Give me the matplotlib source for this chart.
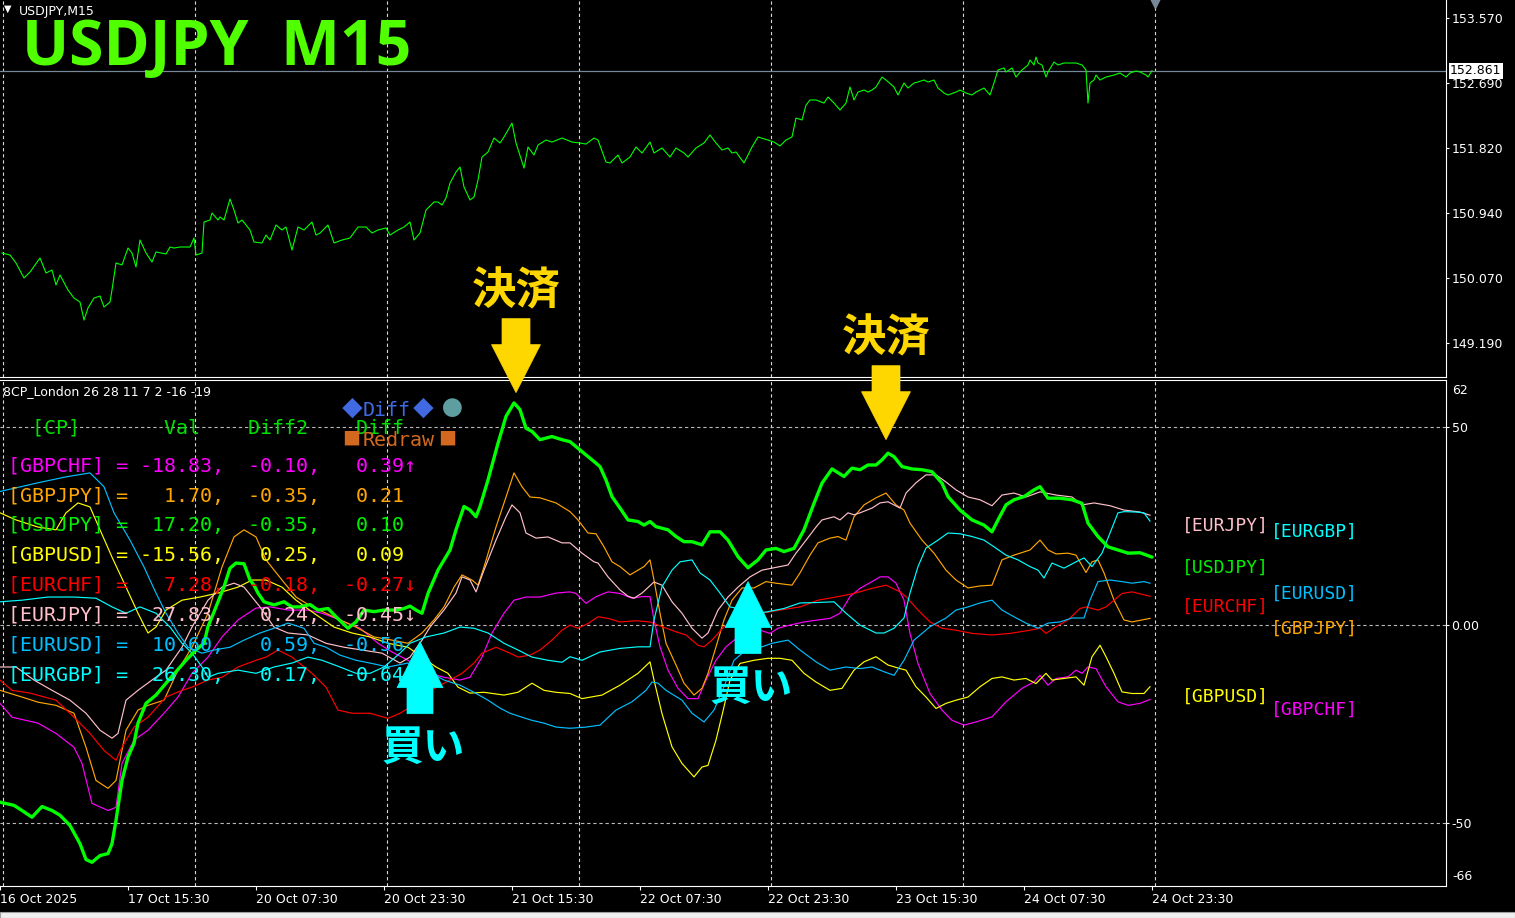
import matplotlib
matplotlib.use('Agg')
import matplotlib.pyplot as plt
from matplotlib.patches import Polygon, Rectangle
from matplotlib.transforms import IdentityTransform, blended_transform_factory

W, H = 1515, 918

# ---------------- data ----------------
x_tick_idx = [0, 64, 128, 192, 256, 320, 384, 448, 512, 576]
x_tick_labels = ["16 Oct 2025", "17 Oct 15:30", "20 Oct 07:30", "20 Oct 23:30",
                 "21 Oct 15:30", "22 Oct 07:30", "22 Oct 23:30", "23 Oct 15:30",
                 "24 Oct 07:30", "24 Oct 23:30"]
grid_idx = [1.5, 97.5, 193.5, 289.5, 385.5, 481.5, 577.5]
price_ticks = [153.570, 152.690, 151.820, 150.940, 150.070, 149.190]
bid_price = 152.861
sub_ticks = [50, 0, -50]
sub_tick_labels = ["50", "0.00", "-50"]

price_idx = [1,5,8,12,15,20,23,26,28,30,34,37,40,42,44,47,50,52,55,56,58,61,64,66,68,70,73,76,78,83,
             85,87,90,95,97,98,101,102,105,106,109,110,112,115,117,119,121,125,127,131,133,135,138,141,143,
             146,149,152,156,158,160,164,167,171,175,179,183,186,189,193,195,199,202,205,207,210,213,217,219,
             221,223,225,228,230,232,235,237,239,241,244,247,250,252,256,258,262,264,267,269,273,276,281,286,290,
             293,297,299,303,305,309,311,315,318,321,325,327,331,335,338,342,344,348,352,355,358,361,364,366,
             368,372,376,379,
             384,387,390,393,396,398,401,403,405,408,412,414,417,420,423,425,427,429,432,434,436,438,441,443,
             447,449,452,454,457,459,462,464,467,469,472,474,478,480,483,486,488,492,495,497,499,502,503,506,
             508,511,514,515,517,518,519,521,523,524,527,529,532,535,538,541,543,544,545,547,548,550,553,557,
             560,563,565,568,570,573,574,576]
price_val = [150.406,150.379,150.272,150.070,150.150,150.339,150.137,150.177,149.976,150.110,
             149.908,149.800,149.746,149.504,149.666,149.800,149.827,149.679,149.746,149.908,
             150.272,150.245,150.473,150.406,150.218,150.581,150.406,150.285,150.420,150.393,
             150.487,150.473,150.487,150.487,150.608,150.379,150.406,150.823,150.850,150.945,
             150.850,150.891,150.850,151.133,150.985,150.810,150.850,150.716,150.554,150.541,
             150.648,150.581,150.783,150.716,150.756,150.446,150.756,150.716,150.823,150.648,
             150.675,150.783,150.541,150.581,150.608,150.756,150.756,150.675,150.716,150.743,
             150.648,150.716,150.756,150.823,150.581,150.675,150.985,151.093,151.093,151.052,
             151.147,151.348,151.497,151.564,151.295,151.120,151.160,151.389,151.698,151.766,
             151.954,151.887,151.968,152.156,151.887,151.550,151.833,151.725,151.860,151.927,
             151.900,151.954,151.900,151.887,
             151.873,151.954,151.927,151.631,151.618,151.725,151.618,151.698,151.833,151.752,
             151.900,151.752,151.820,151.698,151.820,151.752,151.698,151.820,151.887,151.995,
             151.887,151.793,151.820,151.752,151.766,151.618,151.833,151.968,
             151.927,151.900,151.847,151.927,151.968,152.223,152.197,152.398,152.466,152.466,
             152.425,152.506,152.425,152.331,152.425,152.641,152.466,152.573,152.600,152.573,
             152.600,152.641,152.775,152.735,152.641,152.533,152.695,152.627,152.695,152.708,
             152.735,152.708,152.735,152.627,152.560,152.533,152.573,152.600,152.560,152.533,
             152.573,152.627,152.533,152.695,152.870,152.897,152.843,152.897,152.775,152.870,
             152.937,153.004,152.937,153.045,152.964,152.937,152.775,152.843,152.977,152.937,
             152.964,152.964,152.964,152.937,152.870,152.425,152.695,152.735,152.802,152.735,
             152.775,152.802,152.829,152.775,152.829,152.856,152.843,152.802,152.775,152.861]

usdjpy_idx = [0,7,11,16,21,26,30,35,40,43,46,50,54,56,58,61,64,67,69,73,78,83,88,93,98,102,104,108,112,115,
              118,122,125,127,129,132,137,142,146,150,155,159,164,168,174,178,182,187,192,198,202,205,208,211,
              214,219,225,228,232,235,238,240,244,249,253,257,260,263,266,270,276,281,
              285,291,296,300,303,306,310,314,319,322,325,328,334,338,342,346,351,355,360,364,369,374,379,383,
              388,392,397,402,407,411,416,422,426,430,434,438,441,444,447,451,456,461,466,471,474,480,486,492,
              496,499,503,507,512,517,520,524,530,536,541,544,549,554,559,564,570,576]
usdjpy_val = [-44.8,-45.6,-46.9,-48.6,-45.9,-46.9,-48.1,-50.7,-55.3,-59.3,-60.0,-58.3,-57.8,-55.3,-49.4,
              -39.3,-33.4,-29.9,-24.8,-19.8,-17.7,-14.7,-11.8,-8.9,-6.3,-4.6,-0.4,4.6,9.7,14.4,15.7,15.5,
              11.4,10.1,8.1,5.9,5.1,5.9,4.6,4.6,5.2,3.8,4.2,2.1,-0.8,0.8,3.8,3.4,3.8,3.8,4.2,4.8,3.8,3.0,
              8.0,13.9,19.0,24.1,30.0,29.1,27.4,30.0,36.7,46.0,52.8,56.2,54.5,49.8,49.0,46.9,47.7,46.9,
              46.4,43.9,41.8,40.1,36.7,32.5,29.6,26.6,26.2,25.3,26.2,24.9,24.1,22.4,21.1,21.1,20.3,23.6,
              23.6,21.5,17.3,14.5,16.5,19.0,19.4,18.6,19.4,24.1,30.8,35.9,39.5,37.6,39.7,39.3,40.5,40.5,
              41.8,43.5,42.6,40.1,39.5,39.3,38.8,35.9,32.5,29.1,26.6,25.3,23.6,26.6,30.4,31.7,32.5,34.2,
              35.0,32.1,32.1,31.7,30.8,25.8,22.4,19.8,19.0,18.2,18.3,17.2]

eurjpy_idx = [0,8,17,26,35,43,50,56,59,63,69,76,83,91,96,104,111,117,122,130,137,144,154,163,172,181,191,
              200,205,211,215,222,228,231,235,238,242,248,253,256,260,263,268,274,281,
              285,291,297,299,304,310,314,317,321,327,331,336,341,346,351,354,359,364,369,375,381,386,394,
              398,402,408,411,417,420,424,427,430,436,440,444,450,453,458,463,468,473,478,484,490,496,501,
              507,513,520,528,536,541,547,555,562,570,575]
eurjpy_val = [-10.6,-10.6,-13.9,-16.5,-19.0,-22.3,-26.6,-28.6,-27.4,-19.0,-16.5,-13.9,-11.4,-5.6,-0.5,
              6.3,9.6,10.6,9.6,4.6,-0.5,-2.0,-2.5,-4.6,-5.6,-6.3,-7.1,-9.6,-8.1,-3.8,-0.5,3.8,8.1,12.2,
              11.4,8.4,13.9,21.5,27.4,30.4,28.4,23.3,22.0,22.3,20.8,
              20.8,18.2,16.0,15.7,12.2,8.9,7.3,6.8,8.1,10.9,10.1,5.9,3.0,-0.8,-3.3,-2.0,3.8,7.1,9.6,12.2,
              13.9,14.4,15.2,18.2,20.8,24.8,26.6,27.4,26.6,28.4,27.9,28.4,29.6,30.9,31.2,29.6,33.4,36.0,
              38.0,38.0,36.2,34.2,32.4,31.7,30.2,32.9,33.4,32.4,33.7,32.9,32.4,30.4,30.9,30.2,29.1,28.6,27.8]

gbpjpy_idx = [0,11,19,28,37,43,48,54,58,63,69,74,82,89,96,104,111,117,122,128,133,141,148,156,163,170,178,
              187,196,204,211,217,222,227,231,236,239,242,248,253,257,261,265,270,278,
              285,289,294,298,302,306,310,315,319,322,325,327,330,333,338,342,347,351,354,358,362,366,371,
              377,383,388,396,400,405,409,415,419,423,427,432,438,443,448,452,455,461,467,473,478,484,490,
              496,501,507,515,520,524,528,534,538,543,546,549,552,557,562,566,571,575]
gbpjpy_val = [-16.5,-18.2,-19.5,-20.3,-22.3,-30.9,-39.3,-41.3,-39.3,-26.6,-21.5,-20.3,-19.0,-11.4,-5.6,
              3.0,14.7,22.3,24.1,22.3,16.5,11.4,7.1,4.6,3.0,1.3,-0.5,-3.0,-3.8,-4.6,-2.0,1.3,4.6,9.6,12.7,
              11.4,10.1,14.7,24.8,32.4,38.5,35.0,32.4,32.2,30.9,
              28.7,26.6,23.3,23.1,19.8,16.0,14.8,12.7,13.9,14.8,16.5,11.4,3.0,-4.6,-10.1,-14.7,-17.7,-16.0,
              -12.2,-5.5,1.3,6.3,9.4,9.4,11.0,10.6,10.1,13.2,17.7,20.8,22.0,22.4,21.5,27.4,30.4,32.2,33.4,
              30.4,29.1,25.8,21.5,18.2,13.9,11.4,9.4,9.9,10.1,16.5,17.7,19.0,21.5,19.0,18.0,18.2,17.7,13.3,
              16.0,16.5,13.2,6.3,1.3,0.8,1.3,1.7]

eurchf_idx = [0,6,15,28,37,45,52,58,61,67,74,83,91,96,104,111,119,128,133,139,146,156,163,169,176,185,194,
              200,205,213,222,231,237,241,248,255,259,265,270,276,281,
              285,289,294,299,304,310,318,325,331,338,343,349,352,356,362,367,373,381,390,400,409,419,427,
              436,443,450,453,459,465,471,478,486,496,505,515,520,523,528,534,540,543,549,553,557,561,566,575]
eurchf_val = [-13.9,-16.5,-17.2,-19.0,-23.3,-27.4,-31.7,-34.2,-30.9,-25.8,-23.3,-18.2,-16.5,-15.7,-13.9,
              -13.2,-10.6,-8.9,-8.1,-6.3,-8.1,-12.2,-15.7,-21.5,-22.3,-22.3,-23.6,-22.3,-20.8,-17.2,-14.7,
              -12.2,-9.6,-7.1,-5.6,-7.1,-8.1,-7.6,-6.3,-3.8,-1.3,
              0.0,-0.8,0.4,2.1,1.7,0.8,1.1,0.8,-0.4,-1.7,-2.5,-5.1,-5.5,-3.8,-0.4,0.8,1.7,3.0,3.8,4.6,6.3,
              7.2,8.0,9.3,10.1,8.4,7.2,3.8,0.8,-0.8,-1.3,-2.1,-2.5,-2.1,-1.3,-0.8,-2.1,-0.4,1.3,4.2,4.6,
              3.8,4.6,6.3,8.0,8.4,7.3]

eurusd_idx = [0,19,33,45,52,57,65,72,78,83,89,94,101,107,115,122,130,137,144,152,157,163,170,178,185,194,
              204,213,222,230,237,244,250,255,261,266,272,278,
              285,293,300,308,316,323,326,329,333,341,346,352,357,362,367,373,381,386,394,400,408,415,423,
              430,436,442,447,452,457,465,473,478,484,490,496,501,507,513,519,524,530,536,542,545,549,555,
              561,566,572,575]
eurusd_val = [33.8,36.0,37.5,38.5,35.0,28.4,21.5,14.7,8.1,3.0,-2.0,-5.6,-7.1,-6.3,-5.6,-3.8,-2.0,-0.8,0.5,
              -0.8,-4.6,-5.6,-7.6,-8.9,-9.6,-10.6,-9.6,-11.4,-13.9,-15.2,-17.0,-19.0,-21.0,-22.3,-23.3,
              -24.1,-24.8,-25.8,
              -26.1,-25.8,-25.3,-21.5,-19.4,-16.5,-14.4,-14.7,-16.5,-19.0,-22.3,-24.5,-21.5,-15.6,-8.9,-6.3,
              -5.5,-4.6,-3.8,-6.3,-9.3,-11.4,-10.6,-11.0,-10.6,-11.8,-12.7,-8.9,-3.8,-0.4,1.8,3.8,4.6,5.6,
              6.3,3.8,2.1,0.5,-0.8,0.5,0.8,1.8,1.8,6.3,11.0,11.4,11.0,10.6,11.0,10.6]

eurgbp_idx = [0,11,24,37,48,56,63,70,78,85,91,96,101,104,109,119,128,137,146,154,161,170,178,185,192,200,
              205,213,222,230,237,244,252,259,266,274,281,
              285,291,300,310,319,325,327,331,336,340,346,350,355,360,365,373,379,384,392,400,408,417,423,
              430,438,442,447,452,455,459,463,469,474,480,486,492,497,503,509,515,519,522,526,532,538,542,
              546,551,555,559,562,568,572,575]
eurgbp_val = [5.9,6.3,7.1,7.1,6.8,4.6,3.0,4.6,3.0,-0.5,-4.6,-7.1,-10.6,-13.2,-12.2,-11.4,-12.2,-10.6,-9.6,
              -8.1,-8.9,-10.6,-12.2,-12.2,-10.6,-7.1,-4.6,-3.0,-2.0,-0.5,-0.8,-2.0,-4.6,-6.3,-8.1,-8.9,-9.4,
              -8.0,-8.9,-6.8,-5.9,-5.5,-5.5,1.3,9.7,13.9,16.0,16.5,13.2,11.4,8.1,4.6,3.8,3.0,3.4,4.2,5.6,
              5.7,5.9,3.0,0.0,-2.0,-2.0,-0.8,1.8,8.1,14.8,19.5,21.5,23.3,23.1,22.4,21.5,19.8,17.7,16.5,14.8,
              13.9,11.9,15.7,14.4,16.0,17.0,14.8,18.2,23.3,28.4,28.7,28.6,28.4,26.3]

gbpchf_idx = [0,6,19,28,37,41,46,54,58,61,67,74,82,89,96,104,111,119,128,135,144,154,161,170,180,189,196,
              204,209,215,222,230,235,241,246,252,257,263,270,278,
              285,288,293,298,304,310,316,321,325,327,330,334,339,344,349,353,358,363,369,377,385,389,395,
              402,409,415,420,425,430,436,440,444,448,452,455,459,465,471,476,482,488,496,503,511,517,520,
              524,528,534,538,541,544,548,553,559,564,570,575]
gbpchf_val = [-19.8,-23.3,-24.8,-27.4,-30.9,-35.0,-45.1,-46.9,-46.1,-35.0,-29.1,-26.6,-22.3,-18.2,-12.2,
              -8.1,-3.0,1.3,4.3,4.6,3.8,3.8,3.0,1.3,-0.8,-4.6,-6.8,-8.9,-10.6,-12.2,-13.2,-13.9,-13.2,-8.1,
              -2.0,3.0,6.3,7.1,7.1,8.1,
              8.4,8.0,5.5,7.2,8.4,8.0,6.8,7.2,7.2,1.3,-5.5,-11.4,-16.0,-18.6,-18.6,-13.9,-8.9,-5.5,-3.0,
              -0.8,-2.1,-0.8,0.0,0.8,1.3,1.7,3.0,7.2,9.3,11.0,12.2,12.2,10.6,6.3,-2.1,-9.7,-17.3,-21.5,
              -24.1,-25.3,-24.5,-23.2,-19.4,-16.0,-14.4,-12.7,-15.2,-13.5,-13.1,-11.4,-12.2,-10.6,-11.0,
              -15.6,-19.4,-20.3,-19.8,-18.8]

gbpusd_idx = [0,8,19,28,33,39,45,50,56,63,69,74,78,83,91,100,109,119,126,133,141,148,157,167,176,185,194,
              204,211,218,224,229,235,242,252,259,266,272,278,
              285,291,301,310,319,325,327,331,336,341,347,351,354,358,362,365,370,377,384,390,396,402,408,
              415,421,427,432,438,444,450,453,458,463,468,473,478,484,490,496,501,507,513,518,523,526,532,
              538,542,546,550,553,557,561,566,572,575]
gbpusd_val = [28.4,26.6,24.8,24.1,28.4,30.9,29.9,24.1,17.2,9.6,3.0,-2.0,-0.5,3.8,6.3,7.1,8.1,9.6,11.4,11.4,
              9.6,6.3,3.0,-0.5,-2.0,-3.0,-4.6,-5.6,-8.1,-10.6,-12.2,-15.7,-17.2,-17.0,-17.7,-17.0,-14.7,
              -16.5,-17.0,
              -17.3,-18.6,-17.7,-15.2,-12.2,-9.3,-13.9,-22.4,-30.8,-35.0,-38.4,-35.9,-35.5,-29.1,-20.7,-13.9,
              -9.7,-8.9,-8.4,-8.4,-8.9,-12.2,-14.4,-16.5,-16.0,-11.4,-9.3,-8.0,-10.1,-11.0,-11.4,-15.6,-18.2,
              -21.1,-19.8,-19.0,-18.2,-15.6,-13.5,-13.1,-13.9,-13.5,-14.8,-12.2,-13.9,-13.5,-13.1,-15.2,
              -8.0,-5.1,-8.0,-12.2,-16.9,-17.3,-17.3,-15.6]

# table (pair, Val, Diff2, Diff, mark)
table_pairs = ["GBPCHF", "GBPJPY", "USDJPY", "GBPUSD", "EURCHF", "EURJPY", "EURUSD", "EURGBP"]
table_val = [-18.83, 1.70, 17.20, -15.56, 7.28, 27.83, 10.60, 26.30]
table_diff2 = [-0.10, -0.35, -0.35, 0.25, -0.18, 0.24, 0.59, 0.17]
table_diff = [0.39, 0.21, 0.10, 0.09, -0.27, -0.45, -0.56, -0.64]
table_mark = ["↑", "", "", "", "↓", "↓", "", ""]

colors = {"GBPCHF": "#ff00ff", "GBPJPY": "#ffa500", "USDJPY": "#00f000", "GBPUSD": "#ffff00",
          "EURCHF": "#ff0000", "EURJPY": "#ffc0cb", "EURUSD": "#00bfff", "EURGBP": "#00ffff"}

# right-hand labels: (pair, x px, y px)
right_labels = [("EURJPY", 1182, 526), ("EURGBP", 1271, 532), ("USDJPY", 1182, 568),
                ("EURUSD", 1271, 594), ("EURCHF", 1182, 607), ("GBPJPY", 1271, 629),
                ("GBPUSD", 1182, 697), ("GBPCHF", 1271, 710)]

# annotations: text, tip bar index, tip value, direction
annotations = [("決済", 258, 58.8, "down"), ("決済", 443, 46.9, "down"),
               ("買い", 210, -4.2, "up"), ("買い", 374, 11.0, "up")]

# ---------------- figure ----------------
fig = plt.figure(figsize=(W / 100, H / 100), dpi=100, facecolor="black")


def fx(x):
    return x / W


def fy(y):
    return 1 - y / H


ax1 = fig.add_axes([0, fy(377), 1446 / W, 377 / H])
ax2 = fig.add_axes([0, fy(886), 1446 / W, (886 - 380) / H])

for ax in (ax1, ax2):
    ax.set_facecolor("black")
    ax.set_xlim(0, 723)
    for s in ax.spines.values():
        s.set_visible(False)
    ax.spines["right"].set_visible(True)
    ax.spines["right"].set_color("white")
    ax.yaxis.tick_right()
    for g in grid_idx:
        ax.axvline(g, color="#d8d8d8", lw=0.8, ls=(0, (3, 2.5)), zorder=1)

ax1.spines["bottom"].set_visible(True)
ax1.spines["bottom"].set_color("white")
ax2.spines["top"].set_visible(True)
ax2.spines["top"].set_color("white")
ax2.spines["bottom"].set_visible(True)
ax2.spines["bottom"].set_color("white")

# top price panel
ax1.set_ylim(148.737, 153.812)
ax1.plot(price_idx, price_val, color="#00ff00", lw=0.8, zorder=3)
ax1.axhline(bid_price, color="#778899", lw=0.9, zorder=2)
ax1.set_xticks([])
ax1.set_yticks(price_ticks)
ax1.set_yticklabels(["%.3f" % p for p in price_ticks])
ax1.tick_params(axis="y", colors="white", length=2.5, width=0.8, pad=1.5, labelsize=9)
bt1 = blended_transform_factory(ax1.transAxes, ax1.transData)
ax1.text(1 + 4 / 1446, bid_price, "152.861", transform=bt1, ha="left", va="center",
         fontsize=9, color="black", clip_on=False, zorder=10,
         bbox=dict(boxstyle="square,pad=0.12", fc="white", ec="none"))
bt1x = blended_transform_factory(ax1.transData, ax1.transAxes)
ax1.plot([grid_idx[-1]], [0.995], marker="v", ms=9, color="#778899", transform=bt1x,
         clip_on=False, zorder=5)

# sub panel
ax2.set_ylim(-66, 62)
for lv in sub_ticks:
    ax2.axhline(lv, color="#b8b8b8", lw=0.8, ls=(0, (3, 2.5)), zorder=1)
series = [("GBPCHF", gbpchf_idx, gbpchf_val), ("GBPJPY", gbpjpy_idx, gbpjpy_val),
          ("GBPUSD", gbpusd_idx, gbpusd_val), ("EURCHF", eurchf_idx, eurchf_val),
          ("EURJPY", eurjpy_idx, eurjpy_val), ("EURUSD", eurusd_idx, eurusd_val),
          ("EURGBP", eurgbp_idx, eurgbp_val)]
for name, xi, yv in series:
    ax2.plot(xi, yv, color=colors[name], lw=0.85, zorder=3)
ax2.plot(usdjpy_idx, usdjpy_val, color="#00ff00", lw=2.4, zorder=4,
         solid_joinstyle="round", solid_capstyle="round")

ax2.set_yticks(sub_ticks)
ax2.set_yticklabels(sub_tick_labels)
ax2.tick_params(axis="y", colors="white", length=2.5, width=0.8, pad=1.5, labelsize=9)
bt2 = blended_transform_factory(ax2.transAxes, ax2.transData)
ax2.annotate("62", xy=(1, 62), xycoords=bt2, xytext=(4.3, -7.5), textcoords="offset points",
             color="white", fontsize=9, va="center", ha="left", annotation_clip=False)
ax2.annotate("-66", xy=(1, -66), xycoords=bt2, xytext=(4.3, 6.5), textcoords="offset points",
             color="white", fontsize=9, va="center", ha="left", annotation_clip=False)

ax2.set_xticks(x_tick_idx)
ax2.set_xticklabels(x_tick_labels, ha="left")
ax2.tick_params(axis="x", colors="white", length=3, width=0.8, pad=2, labelsize=9)

# ---------------- texts ----------------
fig.text(fx(4), fy(9), "▼", color="white", fontsize=7, va="center", ha="left")
fig.text(fx(19), fy(12), "USDJPY,M15", color="white", fontsize=9, va="center", ha="left")
fig.text(fx(22), fy(65), "USDJPY  M15", color="#50ff00", fontsize=45, fontweight="bold",
         family="Open Sans", va="baseline", ha="left")
fig.text(fx(3), fy(392), "8CP_London 26 28 11 7 2 -16 -19", color="white", fontsize=9,
         va="center", ha="left")

MONO = "DejaVu Sans Mono"
TS = 14.4
fig.text(fx(8), fy(428), "  [CP]       Val    Diff2    Diff", color="#00e000",
         family=MONO, fontsize=TS, va="center", ha="left")
for i, p in enumerate(table_pairs):
    s = "[%s] = %6.2f,  %5.2f,  %5.2f%s" % (p, table_val[i], table_diff2[i], table_diff[i], table_mark[i])
    fig.text(fx(8), fy(466 + 30 * i), s, color=colors[p], family=MONO, fontsize=TS,
             va="center", ha="left")

SYM = ["Noto Sans CJK JP", "DejaVu Sans"]
fig.text(fx(352), fy(410), "◆", color="#4169e1", family=SYM, fontsize=15, va="center", ha="center")
fig.text(fx(363), fy(410), "Diff", color="#4169e1", family=MONO, fontsize=TS, va="center", ha="left")
fig.text(fx(423), fy(410), "◆", color="#4169e1", family=SYM, fontsize=15, va="center", ha="center")
fig.text(fx(452), fy(410), "●", color="#5f9ea0", family=SYM, fontsize=15, va="center", ha="center")
fig.text(fx(351), fy(440), "■", color="#d2691e", family=SYM, fontsize=13, va="center", ha="center")
fig.text(fx(363), fy(440), "Redraw", color="#d2691e", family=MONO, fontsize=TS, va="center", ha="left")
fig.text(fx(447), fy(440), "■", color="#d2691e", family=SYM, fontsize=13, va="center", ha="center")

for p, x, y in right_labels:
    fig.text(fx(x), fy(y), "[%s]" % p, color=colors[p], family=MONO, fontsize=13,
             va="center", ha="left")

# ---------------- arrows ----------------
fig.canvas.draw()
for txt, bi, bv, d in annotations:
    tx, ty = ax2.transData.transform((bi, bv))
    if d == "down":
        col = "#ffd700"
        shape = [(0, 0), (-24.5, 48), (-14, 48), (-14, 74), (14, 74), (14, 48), (24.5, 48)]
        tpos = (tx, ty + 101)
        fsz = 32
    else:
        col = "#00ffff"
        shape = [(0, 0), (-23, -46), (-13, -46), (-13, -72), (13, -72), (13, -46), (23, -46)]
        tpos = (tx + 3, ty - 106)
        fsz = 30
    poly = Polygon([(tx + a, ty + b) for a, b in shape], closed=True, fc=col, ec=col, lw=0.5,
                   transform=IdentityTransform(), zorder=20)
    fig.add_artist(poly)
    fig.text(tpos[0], tpos[1], txt, transform=IdentityTransform(), color=col,
             family=["Noto Sans CJK JP", "DejaVu Sans"], fontweight="bold", fontsize=fsz,
             va="center", ha="center", zorder=21)

# bottom strip
fig.add_artist(Rectangle((0, 0), 1, 6 / H, transform=fig.transFigure, fc="#f0f0f0",
                         ec="#a0a0a0", lw=0.8, zorder=30))

fig.savefig("out.png", dpi=100, facecolor="black")
